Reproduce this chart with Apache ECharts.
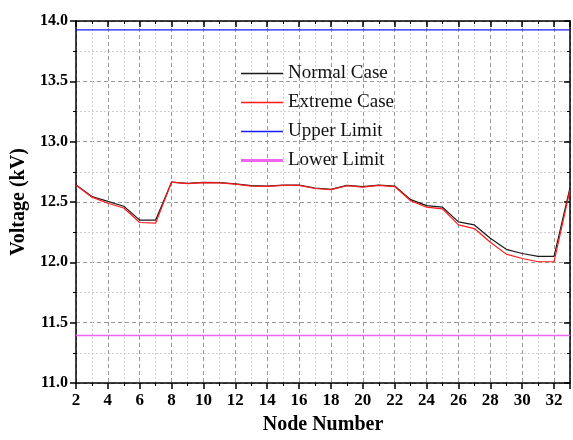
<!DOCTYPE html>
<html>
<head>
<meta charset="utf-8">
<script src="https://cdn.jsdelivr.net/npm/echarts@6/dist/echarts.min.js"></script>
<style>html,body{margin:0;padding:0;background:#fff}#c{width:573px;height:440px}</style>
</head>
<body>
<div id="c"></div>
<script>
const nodes = [2,3,4,5,6,7,8,9,10,11,12,13,14,15,16,17,18,19,20,21,22,23,24,25,26,27,28,29,30,31,32,33];
const normalCase = [12.64,12.546,12.505,12.465,12.35,12.35,12.665,12.654,12.662,12.66,12.65,12.635,12.632,12.64,12.64,12.616,12.605,12.638,12.627,12.64,12.632,12.52,12.47,12.457,12.335,12.31,12.2,12.108,12.073,12.05,12.05,12.62];
const extremeCase = [12.64,12.54,12.49,12.45,12.33,12.325,12.665,12.652,12.66,12.658,12.648,12.632,12.63,12.638,12.638,12.612,12.602,12.635,12.624,12.637,12.628,12.51,12.457,12.443,12.31,12.28,12.167,12.068,12.032,12.005,12.005,12.6];
const upperLimit = 13.926;
const lowerLimit = 11.394;
const yTicks = [11.0, 11.5, 12.0, 12.5, 13.0, 13.5, 14.0];
const xTicks = [2,4,6,8,10,12,14,16,18,20,22,24,26,28,30,32];

const serif = 'Liberation Serif';
const toPairs = arr => nodes.map((n,i)=>[n, arr[i]]);
const constPairs = v => [[nodes[0], v], [nodes[nodes.length-1], v]];

const C_NORMAL = '#1a1a1a', C_EXTREME = '#ff1a1a', C_UPPER = '#1a1aff', C_LOWER = '#ee66ee';
const majorSplit = {show:true, lineStyle:{color:'#9a9a9a', type:[4,3], width:1}};
const minorSplit = {show:true, lineStyle:{color:'#d0d0d0', type:[2,2], width:1}};
const thinIcon = 'path://M0,0h84v2.6h-84z';
const thickIcon = 'path://M0,0h84v6h-84z';

const chart = echarts.init(document.getElementById('c'), null, {renderer:'canvas'});
chart.setOption({
  animation:false,
  backgroundColor:'#fff',
  grid:{left:76, top:21, width:499.5, height:370, containLabel:false},
  legend:{
    orient:'vertical', left:241, top:64, padding:0,
    itemWidth:42, itemHeight:14, itemGap:10,
    textStyle:{fontFamily:serif, fontSize:19, color:'#111'},
    data:[
      {name:'Normal Case', icon:thinIcon, itemStyle:{color:C_NORMAL, borderWidth:0}},
      {name:'Extreme Case', icon:thinIcon, itemStyle:{color:C_EXTREME, borderWidth:0}},
      {name:'Upper Limit', icon:thinIcon, itemStyle:{color:C_UPPER, borderWidth:0}},
      {name:'Lower Limit', icon:thickIcon, itemStyle:{color:C_LOWER, borderWidth:0}}
    ]
  },
  xAxis:[{
    type:'value', min:2, max:33, interval:2,
    axisLine:{show:true, onZero:false, lineStyle:{color:'#000', width:1.5}},
    axisTick:{show:true, inside:false, length:6, lineStyle:{width:1.5, color:'#000'}},
    minorTick:{show:true, splitNumber:2, length:3, lineStyle:{color:'#000', width:1}},
    axisLabel:{fontFamily:serif, fontWeight:'bold', fontSize:17, color:'#000', margin:9,
      formatter:v => xTicks.includes(v) ? String(v) : ''},
    splitLine:majorSplit, minorSplitLine:minorSplit,
    name:'Node Number', nameLocation:'middle', nameGap:32,
    nameTextStyle:{fontFamily:serif, fontWeight:'bold', fontSize:20, color:'#000'}
  },{
    type:'value', position:'top', min:2, max:33, interval:2,
    axisLine:{show:true, onZero:false, lineStyle:{color:'#000', width:1.5}},
    axisTick:{show:true, inside:true, length:6, lineStyle:{width:1.5, color:'#000'}},
    minorTick:{show:true, splitNumber:2, length:3, lineStyle:{color:'#000', width:1}},
    axisLabel:{show:false}, splitLine:{show:false}
  }],
  yAxis:[{
    type:'value', min:11, max:14, interval:0.5,
    axisLine:{show:true, onZero:false, lineStyle:{color:'#000', width:1.5}},
    axisTick:{show:true, inside:false, length:6, lineStyle:{width:1.5, color:'#000'}},
    minorTick:{show:true, splitNumber:2, length:3, lineStyle:{color:'#000', width:1}},
    axisLabel:{fontFamily:serif, fontWeight:'bold', fontSize:16, color:'#000', margin:8,
      formatter:v => yTicks.some(t=>Math.abs(t-v)<1e-9) ? v.toFixed(1) : ''},
    splitLine:majorSplit, minorSplitLine:minorSplit,
    name:'Voltage (kV)', nameLocation:'middle', nameGap:46,
    nameTextStyle:{fontFamily:serif, fontWeight:'bold', fontSize:20, color:'#000'}
  },{
    type:'value', position:'right', min:11, max:14, interval:0.5,
    axisLine:{show:true, onZero:false, lineStyle:{color:'#000', width:1.5}},
    axisTick:{show:true, inside:true, length:6, lineStyle:{width:1.5, color:'#000'}},
    minorTick:{show:true, splitNumber:2, length:3, lineStyle:{color:'#000', width:1}},
    axisLabel:{show:false}, splitLine:{show:false}
  }],
  series:[
    {name:'Normal Case', type:'line', data:toPairs(normalCase), symbol:'none',
      lineStyle:{color:C_NORMAL, width:1.2}, itemStyle:{color:C_NORMAL}},
    {name:'Extreme Case', type:'line', data:toPairs(extremeCase), symbol:'none',
      lineStyle:{color:C_EXTREME, width:1.2}, itemStyle:{color:C_EXTREME}},
    {name:'Upper Limit', type:'line', data:constPairs(upperLimit), symbol:'none',
      lineStyle:{color:C_UPPER, width:1.2}, itemStyle:{color:C_UPPER}},
    {name:'Lower Limit', type:'line', data:constPairs(lowerLimit), symbol:'none',
      lineStyle:{color:C_LOWER, width:1.6}, itemStyle:{color:C_LOWER}}
  ]
});
</script>
</body>
</html>
